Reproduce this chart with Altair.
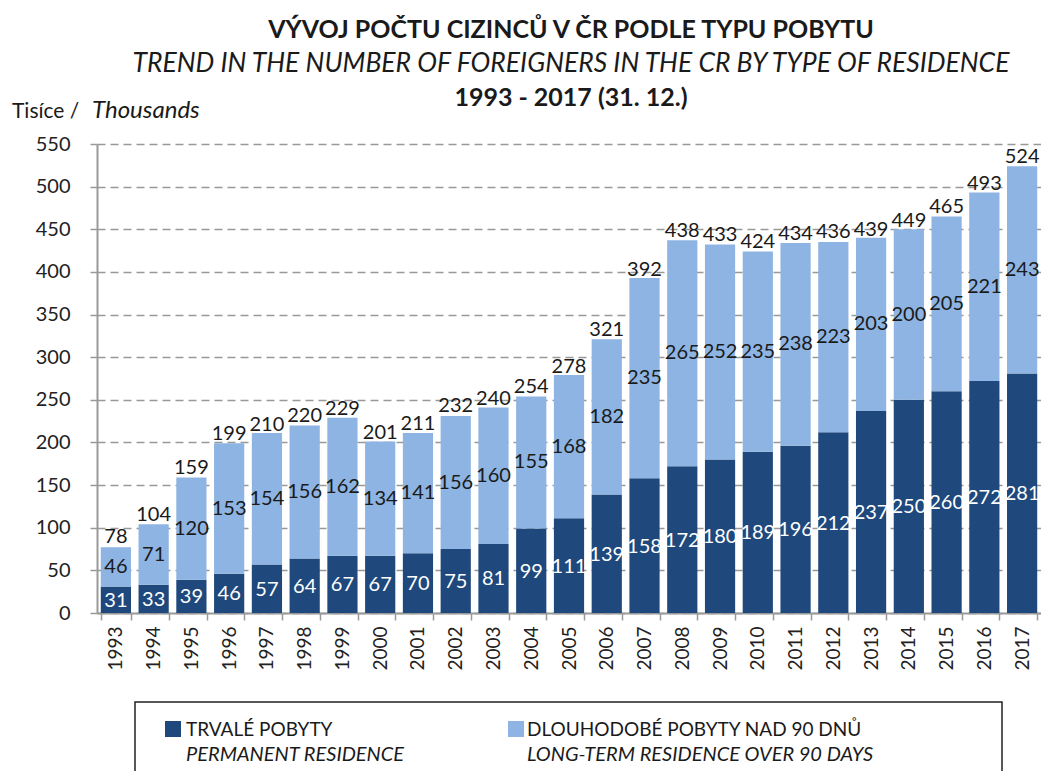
import altair as alt
import pandas as pd

years = ["1993", "1994", "1995", "1996", "1997", "1998", "1999", "2000", "2001",
         "2002", "2003", "2004", "2005", "2006", "2007", "2008", "2009", "2010",
         "2011", "2012", "2013", "2014", "2015", "2016", "2017"]
permanent = [31, 33, 39, 46, 57, 64, 67, 67, 70, 75, 81, 99, 111, 139, 158, 172,
             180, 189, 196, 212, 237, 250, 260, 272, 281]
long_term = [46, 71, 120, 153, 154, 156, 162, 134, 141, 156, 160, 155, 168, 182,
             235, 265, 252, 235, 238, 223, 203, 200, 205, 221, 243]
totals = [78, 104, 159, 199, 210, 220, 229, 201, 211, 232, 240, 254, 278, 321,
          392, 438, 433, 424, 434, 436, 439, 449, 465, 493, 524]
y_ticks = [0, 50, 100, 150, 200, 250, 300, 350, 400, 450, 500, 550]

PERM = "TRVALÉ POBYTY"
LONG = "DLOUHODOBÉ POBYTY NAD 90 DNŮ"
DARK = "#1F497D"
LIGHT = "#8DB4E2"
FONT = "Lato"

rows = []
for i, y in enumerate(years):
    rows.append({"year": y, "type": PERM, "value": permanent[i], "ord": 0})
    rows.append({"year": y, "type": LONG, "value": long_term[i], "ord": 1})
df = pd.DataFrame(rows)
tot_df = pd.DataFrame({"year": years, "total": totals})

W, H = 944, 469

xenc = alt.X("year:N", sort=years, title=None,
             scale=alt.Scale(paddingInner=0.2, paddingOuter=0.1),
             axis=alt.Axis(labelAngle=270, labelFontSize=19, labelColor="#222",
                           labelFont=FONT, domainColor="#999", domainWidth=2,
                           tickColor="#999", tickSize=7, tickWidth=1.5,
                           tickBand="extent", labelPadding=6, grid=False))
yscale = alt.Scale(domain=[0, 550], nice=False)
yaxis = alt.Axis(values=y_ticks, labelFontSize=20, labelColor="#222",
                 labelFont=FONT, domainColor="#999", domainWidth=2,
                 tickColor="#999", tickSize=7, tickWidth=1.5,
                 labelPadding=20, grid=True, gridColor="#999",
                 gridDash=[8, 5], gridWidth=1.5)

bars = alt.Chart(df).mark_bar().encode(
    x=xenc,
    y=alt.Y("value:Q", stack="zero", scale=yscale, title=None, axis=yaxis),
    color=alt.Color("type:N", scale=alt.Scale(domain=[PERM, LONG], range=[DARK, LIGHT]),
                    legend=None),
    order=alt.Order("ord:Q"),
)

stacked = alt.Chart(df).transform_stack(
    stack="value", groupby=["year"], as_=["v0", "v1"],
    sort=[alt.SortField("ord", order="ascending")]
).transform_calculate(mid="(datum.v0 + datum.v1) / 2")

perm_lbl = stacked.transform_filter(alt.datum.ord == 0).mark_text(
    font=FONT, fontSize=20, color="white", baseline="middle", dy=1
).encode(x=alt.X("year:N", sort=years, title=None),
         y=alt.Y("mid:Q", scale=yscale, title=None, axis=yaxis),
         text="value:Q")
long_lbl = stacked.transform_filter(alt.datum.ord == 1).mark_text(
    font=FONT, fontSize=20, color="#1a1a1a", baseline="middle"
).encode(x=alt.X("year:N", sort=years, title=None),
         y=alt.Y("mid:Q", scale=yscale, title=None, axis=yaxis),
         text="value:Q")
tot_lbl = alt.Chart(tot_df).mark_text(
    font=FONT, fontSize=20, color="#1a1a1a", baseline="alphabetic", dy=-3
).encode(x=alt.X("year:N", sort=years, title=None),
         y=alt.Y("total:Q", scale=yscale, title=None, axis=yaxis),
         text="total:Q")


def label(txt, x, y, size, weight="normal", style="normal", align="left"):
    return alt.Chart(pd.DataFrame({"t": [txt]})).mark_text(
        font=FONT, fontSize=size, fontWeight=weight, fontStyle=style,
        align=align, baseline="alphabetic", color="#1a1a1a"
    ).encode(x=alt.value(x), y=alt.value(y), text="t:N")


title1 = label("VÝVOJ POČTU CIZINCŮ V ČR PODLE TYPU POBYTU", 474, -106, 25, "bold", align="center")
title2 = label("TREND IN THE NUMBER OF FOREIGNERS IN THE CR BY TYPE OF RESIDENCE", 474, -72, 26.5,
               style="italic", align="center")
title3 = label("1993 - 2017  (31. 12.)", 474, -38, 25, "bold", align="center")
unit1 = label("Tisíce /", -85, -26, 21)
unit2 = label("Thousands", -5, -26, 24, style="italic")

box = alt.Chart(pd.DataFrame({"a": [0]})).mark_rect(
    fill="white", stroke="#222", strokeWidth=1.5
).encode(x=alt.value(38), x2=alt.value(905), y=alt.value(558), y2=alt.value(700))
sq1 = alt.Chart(pd.DataFrame({"a": [0]})).mark_rect(fill=DARK).encode(
    x=alt.value(68), x2=alt.value(84), y=alt.value(577), y2=alt.value(593))
sq2 = alt.Chart(pd.DataFrame({"a": [0]})).mark_rect(fill=LIGHT).encode(
    x=alt.value(411), x2=alt.value(427), y=alt.value(577), y2=alt.value(593))
leg1a = label(PERM, 89, 592, 19)
leg1b = label("PERMANENT RESIDENCE", 89, 617, 20, style="italic")
leg2a = label(LONG, 430, 592, 19)
leg2b = label("LONG-TERM RESIDENCE OVER 90 DAYS", 430, 617, 20, style="italic")

chart = alt.layer(
    bars, perm_lbl, long_lbl, tot_lbl, title1, title2, title3, unit1, unit2,
    box, sq1, sq2, leg1a, leg1b, leg2a, leg2b
).properties(
    width=W, height=H,
    background="white",
    autosize=alt.AutoSizeParams(type="none"),
    padding={"top": 136, "left": 89, "right": 0, "bottom": 158},
).configure_view(stroke=None)

chart.save("out.html", embed_options={"renderer": "svg", "actions": False})
